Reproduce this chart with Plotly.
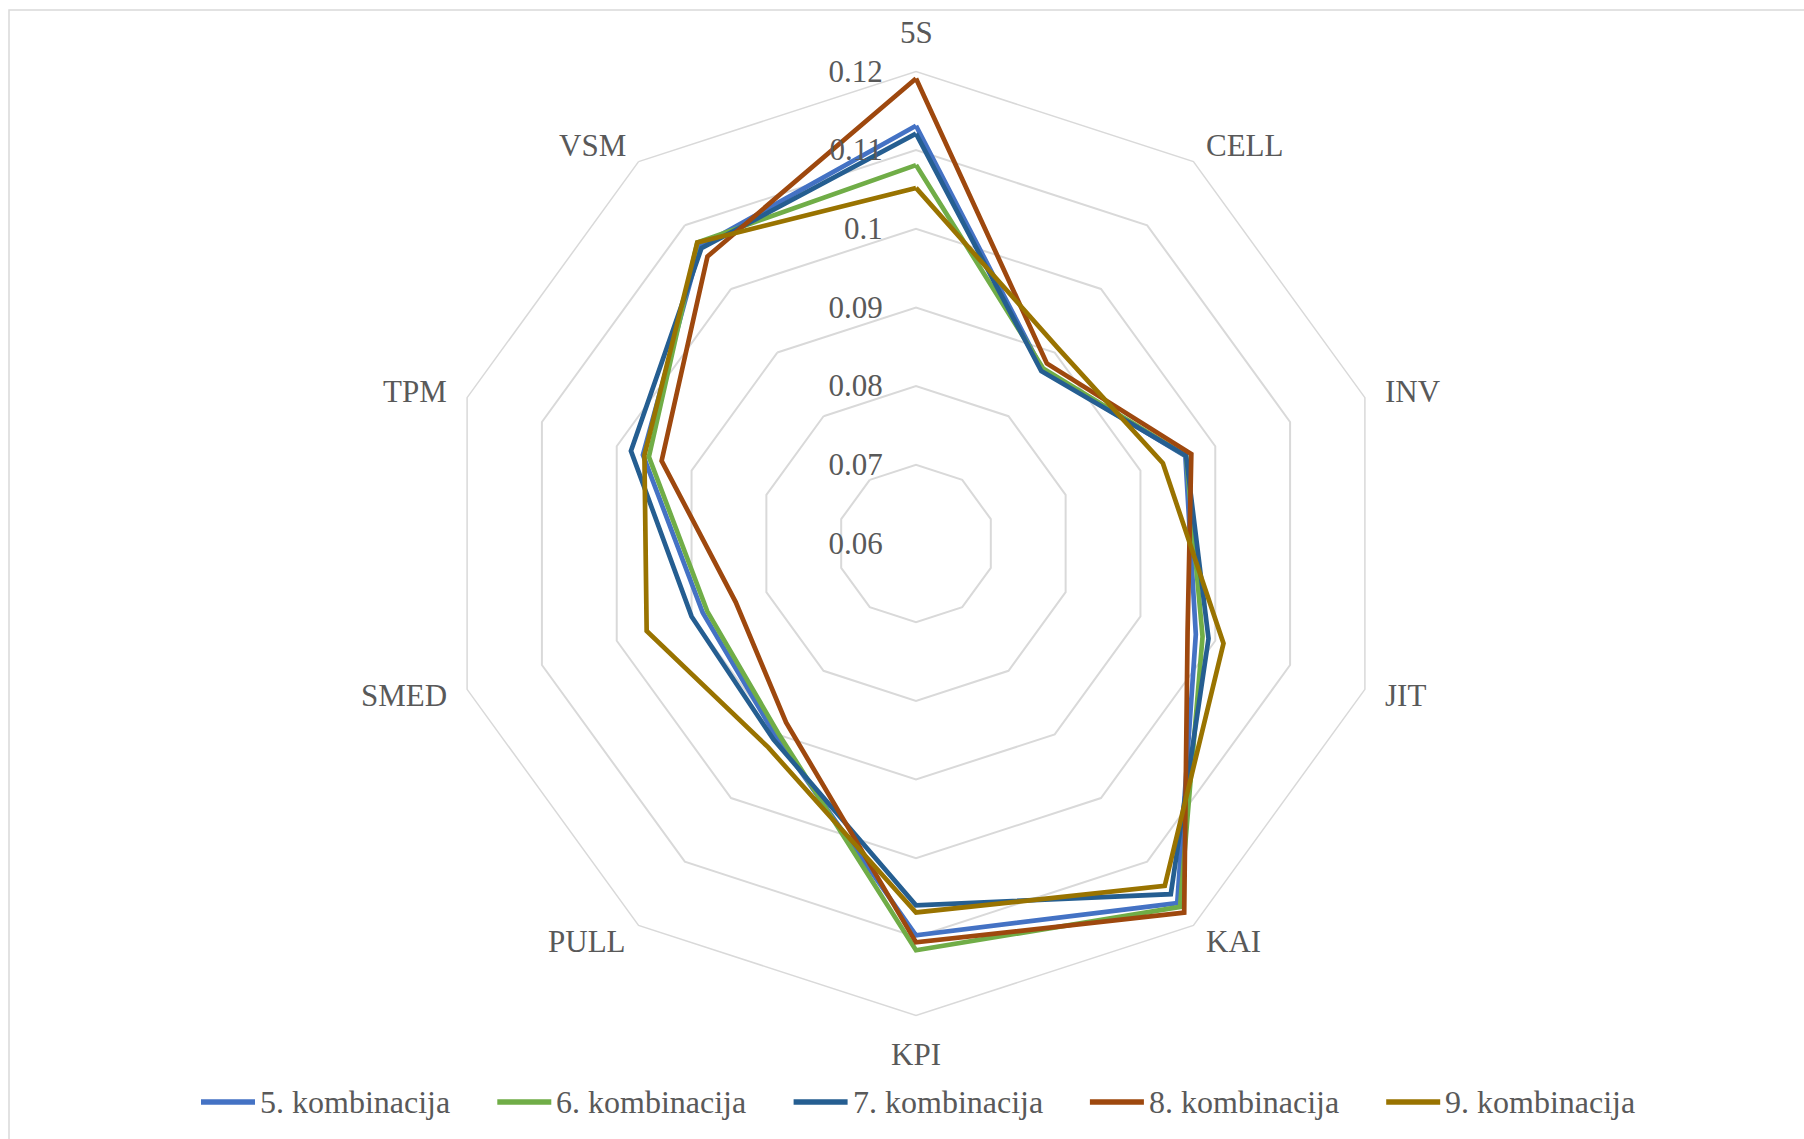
import math
import plotly.graph_objects as go

# Lean tools (axes of the radar) and the weight of each combination
categories = ["5S", "CELL", "INV", "JIT", "KAI", "KPI", "PULL", "SMED", "TPM", "VSM"]
series_names = ["5. kombinacija", "6. kombinacija", "7. kombinacija",
                "8. kombinacija", "9. kombinacija"]

komb5 = [0.1131, 0.0873, 0.0960, 0.0974, 0.1165, 0.1098, 0.0903, 0.0885, 0.0965, 0.1067]
komb6 = [0.1081, 0.0875, 0.0961, 0.0983, 0.1171, 0.1117, 0.0898, 0.0879, 0.0957, 0.1073]
komb7 = [0.1121, 0.0871, 0.0961, 0.0991, 0.1151, 0.1060, 0.0908, 0.0900, 0.0981, 0.1064]
komb8 = [0.1191, 0.0883, 0.0968, 0.0963, 0.1180, 0.1107, 0.0881, 0.0841, 0.0940, 0.1051]
komb9 = [0.1052, 0.0907, 0.0930, 0.1011, 0.1138, 0.1069, 0.0920, 0.0960, 0.0963, 0.1073]

radial_ticks = [0.06, 0.07, 0.08, 0.09, 0.10, 0.11, 0.12]
radial_labels = ["0.06", "0.07", "0.08", "0.09", "0.1", "0.11", "0.12"]

series_values = [komb5, komb6, komb7, komb8, komb9]
colors = ["#4472C4", "#70AD47", "#255E91", "#9E480E", "#997300"]

W, H = 1804, 1139
FONT = "Liberation Serif, Times New Roman, serif"
TEXT_COLOR = "#595959"
GRID = "#D9D9D9"

fig = go.Figure()
for name, vals, col in zip(series_names, series_values, colors):
    fig.add_trace(go.Scatterpolar(
        r=vals + vals[:1],
        theta=categories + categories[:1],
        mode="lines",
        name=name,
        line=dict(color=col, width=4.7),
        showlegend=False,
    ))

# polar area: centre (916, 543.5), outer radius 472 px
cx, cy, rad = 916, 543.5, 472
dom_x = [(cx - rad) / W, (cx + rad) / W]
dom_y = [(H - cy - rad) / H, (H - cy + rad) / H]

fig.update_layout(
    width=W, height=H,
    margin=dict(l=0, r=0, t=0, b=0),
    paper_bgcolor="white",
    plot_bgcolor="white",
    polar=dict(
        domain=dict(x=dom_x, y=dom_y),
        bgcolor="white",
        gridshape="linear",
        radialaxis=dict(
            range=[0.06, 0.12],
            tickvals=radial_ticks,
            ticktext=radial_labels,
            angle=90,
            tickangle=90,
            side="counterclockwise",
            showline=False,
            gridcolor=GRID,
            gridwidth=1.5,
            ticks="outside",
            ticklen=22,
            tickcolor="rgba(0,0,0,0)",
            tickfont=dict(family=FONT, size=31, color=TEXT_COLOR),
        ),
        angularaxis=dict(
            direction="clockwise",
            rotation=90,
            categoryorder="array",
            categoryarray=categories,
            showgrid=False,
            showline=True,
            linecolor=GRID,
            linewidth=1.5,
            ticks="",
            showticklabels=False,
        ),
    ),
)

# category labels just outside each corner of the outer polygon
label_gap = 20
n = len(categories)
for i, cat in enumerate(categories):
    ang = math.radians(360 * i / n)
    s, c = math.sin(ang), math.cos(ang)
    px = cx + (rad + label_gap) * s
    py = cy - (rad + label_gap) * c
    if abs(s) < 0.1:
        xanchor = "center"
        yanchor = "bottom" if c > 0 else "top"
    else:
        xanchor = "left" if s > 0 else "right"
        yanchor = "middle"
    fig.add_annotation(xref="paper", yref="paper", x=px / W, y=1 - py / H,
                       text=cat, showarrow=False, xanchor=xanchor, yanchor=yanchor,
                       borderpad=0,
                       font=dict(family=FONT, size=31, color=TEXT_COLOR))

# chart border
fig.add_shape(type="rect", xref="paper", yref="paper",
              x0=9 / W, x1=1.01, y0=-0.01, y1=1 - 10 / H,
              line=dict(color="#D9D9D9", width=1.5), fillcolor="rgba(0,0,0,0)", layer="below")

# legend row along the bottom
leg_y = 1 - 1102 / H
for i, (name, col) in enumerate(zip(series_names, colors)):
    x0 = 201 + i * 296.3
    fig.add_shape(type="line", xref="paper", yref="paper",
                  x0=x0 / W, x1=(x0 + 54) / W, y0=leg_y, y1=leg_y,
                  line=dict(color=col, width=5.5))
    fig.add_annotation(xref="paper", yref="paper", x=(x0 + 57) / W, y=leg_y,
                       text=name, showarrow=False, xanchor="left", yanchor="middle",
                       font=dict(family=FONT, size=32, color=TEXT_COLOR))

fig.write_html("out.html")
